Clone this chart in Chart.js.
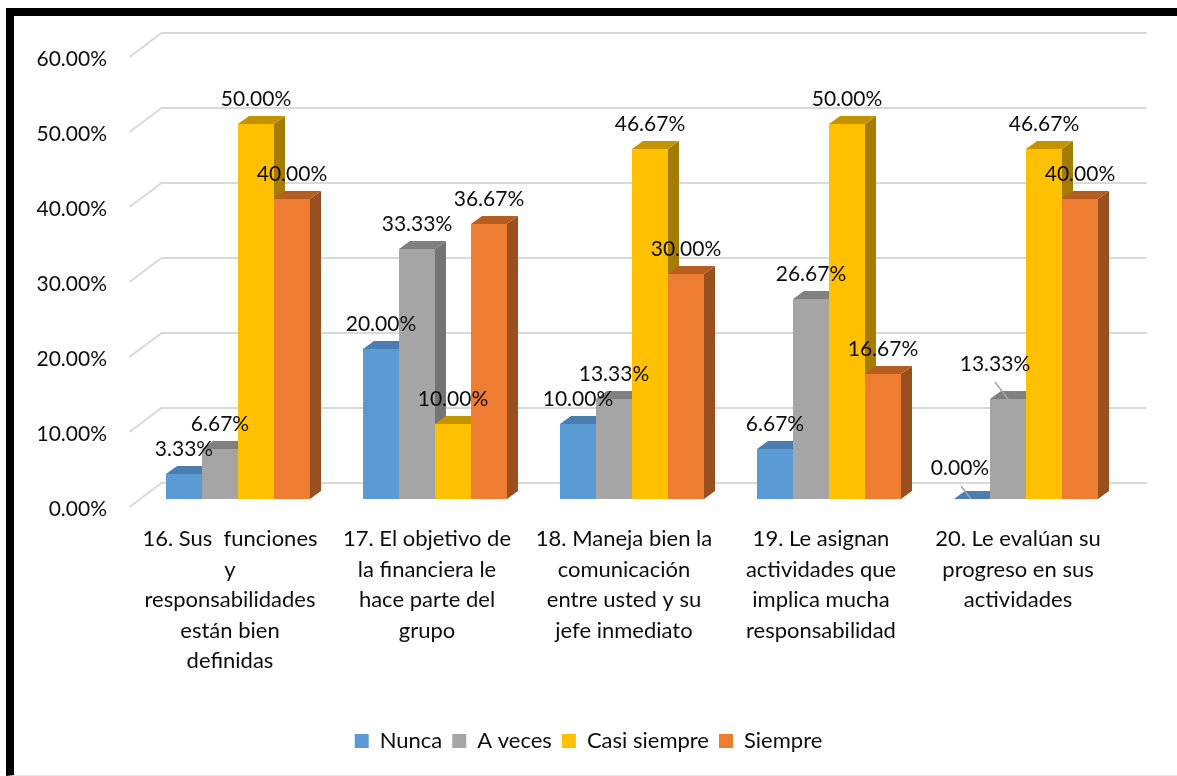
<!DOCTYPE html>
<html>
<head>
<meta charset="utf-8">
<script src="https://cdn.jsdelivr.net/npm/chart.js@4"></script>
<style>
	html, body { margin: 0; padding: 0; background: #fff; }
	body { width: 1177px; height: 776px; position: relative; overflow: hidden; }
	#frame {
		position: absolute; left: 6px; top: 8px; right: 0; bottom: 0;
		border-top: 8px solid #000; border-left: 8px solid #000;
		border-bottom: 1px solid #e6e6e6;
	}
	#chartBox { position: absolute; left: 0; top: 0; width: 1177px; height: 776px; }
</style>
</head>
<body>
<div id="frame"></div>
<div id="chartBox"><canvas id="encuestaChart" width="1177" height="776"></canvas></div>
<script>
var categorias = [
	['16. Sus  funciones', 'y', 'responsabilidades', 'están bien', 'definidas'],
	['17. El objetivo de', 'la financiera le', 'hace parte del', 'grupo'],
	['18. Maneja bien la', 'comunicación', 'entre usted y su', 'jefe inmediato'],
	['19. Le asignan', 'actividades que', 'implica mucha', 'responsabilidad'],
	['20. Le evalúan su', 'progreso en sus', 'actividades']
];
var nunca = [3.33, 20.00, 10.00, 6.67, 0.00];
var aVeces = [6.67, 33.33, 13.33, 26.67, 13.33];
var casiSiempre = [50.00, 10.00, 46.67, 50.00, 46.67];
var siempre = [40.00, 36.67, 30.00, 16.67, 40.00];
var escalaY = [0, 10, 20, 30, 40, 50, 60];

// front, top and side colours for each series
var colores = [
	{ front: '#5B9BD5', top: '#4a7eb0', side: '#41709b' },
	{ front: '#A5A5A5', top: '#808080', side: '#747474' },
	{ front: '#FFC000', top: '#c49300', side: '#a67c00' },
	{ front: '#ED7D31', top: '#b65e22', side: '#9a4f1e' }
];

var FONT = 'Lato, "Open Sans", sans-serif';
var DX = 11, DY = 8;

// a couple of labels sit off their bar with a small leader line
var etiquetasDesplazadas = {
	'0-4': { dx: -12, dy: -31, line: [[-11, -13], [-1, 0]] },
	'1-4': { dx: -13, dy: -35, line: [[-13, -17], [0, 0]] }
};

var muro3d = {
	id: 'muro3d',
	beforeDatasetsDraw: function (chart) {
		var ctx = chart.ctx;
		var y = chart.scales.y;
		var a = chart.chartArea;
		ctx.save();
		ctx.strokeStyle = '#d9d9d9';
		ctx.lineWidth = 2;
		escalaY.forEach(function (v) {
			var py = y.getPixelForValue(v);
			ctx.beginPath();
			ctx.moveTo(a.left - 10, py + 8);
			ctx.lineTo(a.left + 22, py - 16);
			ctx.lineTo(a.right + 22, py - 16);
			ctx.stroke();
		});
		ctx.restore();
	},
	afterDatasetsDraw: function (chart) {
		var ctx = chart.ctx;
		var n = chart.data.labels.length;
		ctx.save();
		// redraw every column in left-to-right order so each front covers the previous side
		for (var i = 0; i < n; i++) {
			chart.data.datasets.forEach(function (ds, d) {
				var bar = chart.getDatasetMeta(d).data[i];
				var p = bar.getProps(['x', 'y', 'base', 'width'], true);
				var l = p.x - p.width / 2, r = p.x + p.width / 2;
				var c = colores[d];
				ctx.fillStyle = c.front;
				ctx.fillRect(l, p.y, p.width, p.base - p.y);
				ctx.fillStyle = c.side;
				ctx.beginPath();
				ctx.moveTo(r, p.y);
				ctx.lineTo(r + DX, p.y - DY);
				ctx.lineTo(r + DX, p.base - DY);
				ctx.lineTo(r, p.base);
				ctx.closePath();
				ctx.fill();
				ctx.fillStyle = c.top;
				ctx.beginPath();
				ctx.moveTo(l, p.y);
				ctx.lineTo(l + DX, p.y - DY);
				ctx.lineTo(r + DX, p.y - DY);
				ctx.lineTo(r, p.y);
				ctx.closePath();
				ctx.fill();
			});
		}
		// value labels
		ctx.font = '21px ' + FONT;
		ctx.textAlign = 'center';
		ctx.textBaseline = 'middle';
		chart.data.datasets.forEach(function (ds, d) {
			chart.getDatasetMeta(d).data.forEach(function (bar, i) {
				var p = bar.getProps(['x', 'y'], true);
				var off = etiquetasDesplazadas[d + '-' + i];
				var tx = p.x, ty = p.y - 25;
				if (off) {
					tx = p.x + off.dx;
					ty = p.y + off.dy;
					ctx.strokeStyle = '#a6a6a6';
					ctx.lineWidth = 1.5;
					ctx.beginPath();
					ctx.moveTo(p.x + off.line[0][0], p.y + off.line[0][1]);
					ctx.lineTo(p.x + off.line[1][0], p.y + off.line[1][1]);
					ctx.stroke();
				}
				ctx.fillStyle = '#0d0d0d';
				ctx.fillText(ds.data[i].toFixed(2) + '%', tx, ty);
			});
		});
		ctx.restore();
	}
};

var ctx = document.getElementById('encuestaChart').getContext('2d');
new Chart(ctx, {
	type: 'bar',
	data: {
		labels: categorias,
		datasets: [
			{ label: 'Nunca', data: nunca, backgroundColor: colores[0].front },
			{ label: 'A veces', data: aVeces, backgroundColor: colores[1].front },
			{ label: 'Casi siempre', data: casiSiempre, backgroundColor: colores[2].front },
			{ label: 'Siempre', data: siempre, backgroundColor: colores[3].front }
		]
	},
	options: {
		responsive: false,
		animation: false,
		devicePixelRatio: 1,
		layout: { padding: { top: 49, right: 0, bottom: 14, left: 0 } },
		datasets: { bar: { categoryPercentage: 144 / 197, barPercentage: 1, borderWidth: 0 } },
		scales: {
			x: {
				grid: { display: false, drawTicks: false },
				border: { display: false },
				ticks: {
					autoSkip: false,
					maxRotation: 0,
					minRotation: 0,
					padding: 25,
					labelOffset: -8,
					color: '#0d0d0d',
					font: { family: FONT, size: 22, lineHeight: 1.385 }
				},
				afterFit: function (scale) { scale.height = 221; }
			},
			y: {
				min: 0,
				max: 60,
				grid: { display: false, drawTicks: false },
				border: { display: false },
				ticks: {
					stepSize: 10,
					padding: 32.5,
					labelOffset: 10,
					color: '#0d0d0d',
					font: { family: FONT, size: 21 },
					callback: function (v) { return v.toFixed(2) + '%'; }
				},
				afterFit: function (scale) { scale.width = 139.5; }
			},
			// empty right axis keeps room for the depth of the wall
			margen: {
				position: 'right',
				grid: { display: false, drawTicks: false },
				border: { display: false },
				ticks: { display: false },
				afterFit: function (scale) { scale.width = 52.5; }
			}
		},
		plugins: {
			tooltip: { enabled: false },
			legend: {
				position: 'bottom',
				labels: {
					boxWidth: 14,
					boxHeight: 14,
					padding: 10,
					color: '#0d0d0d',
					font: { family: FONT, size: 22 }
				}
			}
		}
	},
	plugins: [muro3d]
});
</script>
</body>
</html>
